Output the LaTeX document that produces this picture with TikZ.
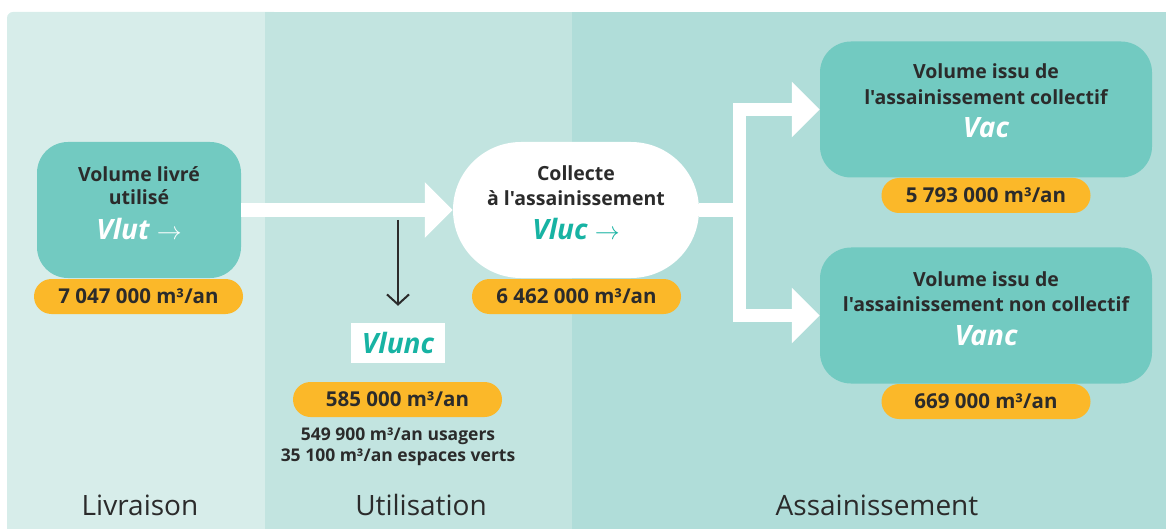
\documentclass[tikz,border=0pt]{standalone}
\usepackage{fontspec}
\setmainfont{Open Sans}[Ligatures=TeXOff]
\usetikzlibrary{arrows.meta}
\definecolor{pone}{HTML}{D7EDEA}
\definecolor{ptwo}{HTML}{C2E4E0}
\definecolor{pthree}{HTML}{B0DDD9}
\definecolor{boxc}{HTML}{72CAC1}
\definecolor{pillc}{HTML}{FBB829}
\definecolor{txt}{HTML}{2B2B2B}
\definecolor{tealt}{HTML}{17B3A3}
\newcommand\fsz[1]{\fontsize{#1}{#1}\selectfont}
\newcommand\thinarrow{{\fontseries{m}\selectfont\fsz{23}$\rightarrow$}}
\begin{document}
\begin{tikzpicture}[x=1pt,y=-1pt,
  boxst/.style={rectangle, rounded corners=31pt, fill=boxc, inner sep=0pt, minimum height=136pt},
  pillst/.style={rectangle, rounded corners=17.5pt, fill=pillc, inner sep=0pt, minimum width=209pt, minimum height=35pt,
     text=txt, font=\bfseries\fsz{20.5}, text height=14.5pt, text depth=0pt},
  boxtxt/.style={anchor=base, text=txt, font=\bfseries\fsz{19.5}, inner sep=0pt},
  vartxt/.style={anchor=base, font=\bfseries\itshape\fsz{28}, inner sep=0pt},
  subtxt/.style={anchor=base, text=txt, font=\bfseries\fsz{17.5}, inner sep=0pt},
  phase/.style={anchor=base, text=txt, font=\fsz{28}, inner sep=0pt},
  fatarrow/.style={draw=white, line width=#1, line join=miter, -{Triangle[length=28pt,width=54pt]}},
]
\useasboundingbox (0,0) rectangle (1166,529);
\begin{scope}
\clip (0,0) rectangle (1166,529);
% background panels
\fill[pone, rounded corners=6pt] (7,540) rectangle (280,12);
\fill[ptwo] (265,540) rectangle (572,12);
\fill[pthree] (572,540) rectangle (1166,12);
\end{scope}

% nodes
\node[boxst, minimum width=204pt] (vlut) at (139,210) {};
\node[rectangle, rounded corners=68pt, fill=white, inner sep=0pt, minimum width=246pt, minimum height=136pt] (coll) at (576,210) {};
\node[boxst, minimum width=332pt] (vac) at (986,109.5) {};
\node[boxst, minimum width=332pt] (vanc) at (986,315.5) {};
\node[rectangle, fill=white, inner sep=0pt, minimum width=94pt, minimum height=40pt,
      text=tealt, font=\bfseries\itshape\fsz{28}, text height=20pt, text depth=0pt] (vlunc) at (398,343) {Vlunc};

% pills
\node[pillst] (p1) at (138.5,296.5) {7 047 000 m³/an};
\node[pillst] (p2) at (576.5,296.5) {6 462 000 m³/an};
\node[pillst] (p3) at (397.5,399.5) {585 000 m³/an};
\node[pillst] (p4) at (986,195.5) {5 793 000 m³/an};
\node[pillst] (p5) at (986,401.5) {669 000 m³/an};

% box texts
\node[boxtxt] (t1a) at (139,181.5) {Volume livré};
\node[boxtxt] (t1b) at (139,205) {utilisé};
\node[vartxt, text=white] (t1c) at (139,240) {Vlut \thinarrow};
\node[boxtxt] (t2a) at (576,181) {Collecte};
\node[boxtxt] (t2b) at (576,206) {à l'assainissement};
\node[vartxt, text=tealt] (t2c) at (576,240) {Vluc \thinarrow};
\node[boxtxt] (t3a) at (986,79) {Volume issu de};
\node[boxtxt] (t3b) at (986,105) {l'assainissement collectif};
\node[vartxt, text=white] (t3c) at (986,138) {Vac};
\node[boxtxt] (t4a) at (986,286) {Volume issu de};
\node[boxtxt] (t4b) at (986,311) {l'assainissement non collectif};
\node[vartxt, text=white] (t4c) at (986,345) {Vanc};

% sub texts
\node[subtxt] (s1) at (398,440) {549 900 m³/an usagers};
\node[subtxt] (s2) at (398,461) {35 100 m³/an espaces verts};

% phases
\node[phase] (ph1) at (140,515) {Livraison};
\node[phase] (ph2) at (421,515) {Utilisation};
\node[phase] (ph3) at (877,515) {Assainissement};

% arrows
\draw[fatarrow=14pt] (vlut.east) -- (coll.west);
\coordinate (br) at (739.5,210);
\draw[fatarrow=13.5pt] (coll.east) -- (br) |- (vac.west);
\draw[fatarrow=13.5pt] (coll.east) -- (br) |- (vanc.west);
\coordinate (dtop) at (398,220);
\draw[txt, line width=2pt, shorten >=17pt, -{Straight Barb[length=10pt,width=22pt]}] (dtop) -- (vlunc.north);
\end{tikzpicture}
\end{document}
